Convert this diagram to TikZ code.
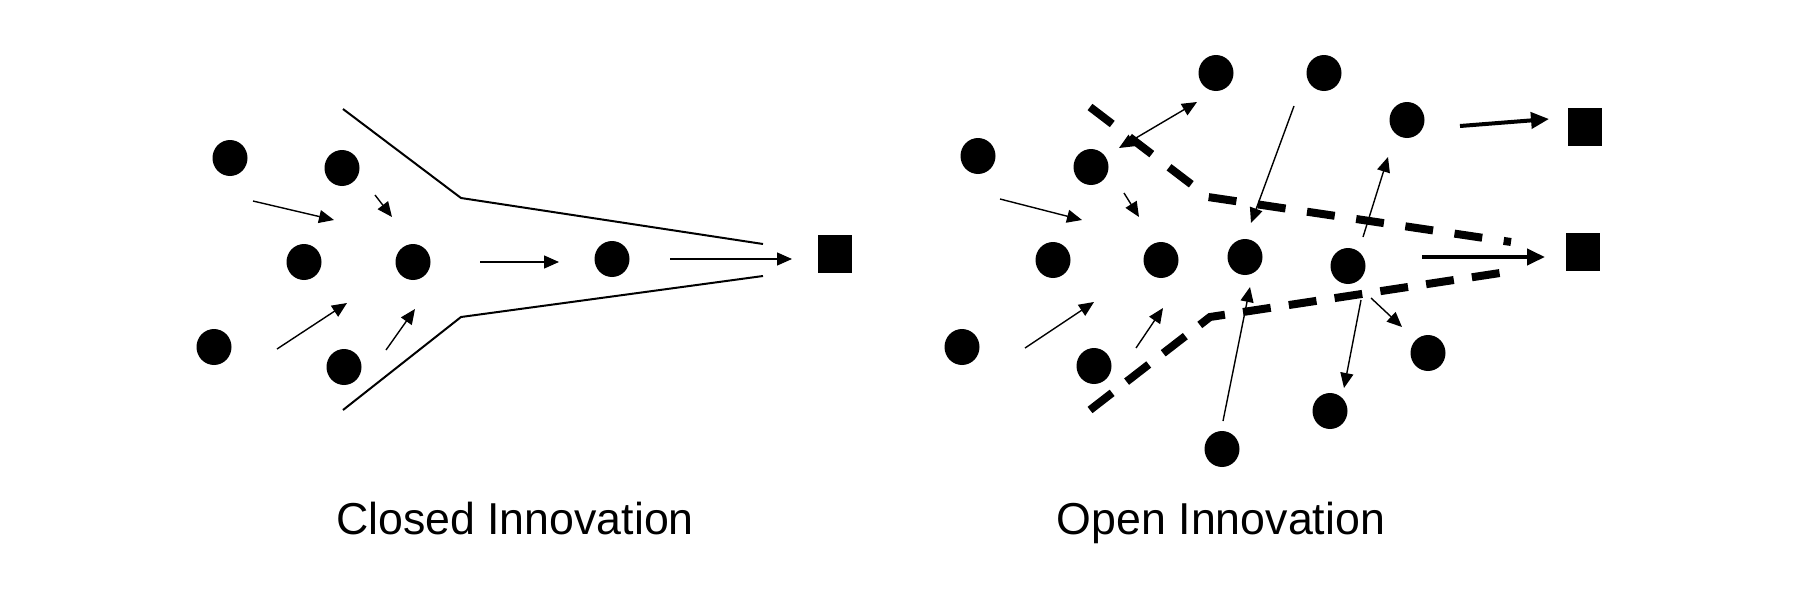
\documentclass[tikz,border=0pt]{standalone}
\usepackage{fontspec}
\setmainfont{Liberation Sans}
\usetikzlibrary{arrows.meta,shapes.geometric}
\begin{document}
\begin{tikzpicture}[x=0.5pt,y=-0.5pt,
  dot/.style={ellipse,fill=black,inner sep=0pt,minimum width=17.5pt,minimum height=18pt},
  sq/.style={rectangle,fill=black,inner sep=0pt,minimum width=17pt,minimum height=19pt},
  arr/.style={line width=0.7pt,-{Triangle[length=7.5pt,width=6.5pt]}},
  darr/.style={line width=0.7pt,{Triangle[length=7.5pt,width=6.5pt]}-{Triangle[length=7.5pt,width=6.5pt]}},
  tarr/.style={line width=2pt,-{Triangle[length=9pt,width=8pt]}},
  funnel/.style={line width=1pt},
  dashtop/.style={line width=4pt,dash pattern=on 14pt off 10.85pt},
  dashbot/.style={line width=4pt,dash pattern=on 14pt off 9.15pt},
  lbl/.style={font=\fontsize{22.35pt}{26pt}\selectfont,anchor=base,inner sep=0pt}]
\useasboundingbox (0,0) rectangle (1800,600);
\fill[white] (0,0) rectangle (1800,600);

% ---------- Closed innovation ----------
\node[dot] (c1) at (230,158) {};
\node[dot] (c2) at (342,168) {};
\node[dot] (c3) at (304,262) {};
\node[dot] (c4) at (413,262) {};
\node[dot] (c5) at (612,259) {};
\node[dot] (c6) at (214,347) {};
\node[dot] (c7) at (344,367) {};
\node[sq]  (cs) at (835,254) {};

\coordinate (ft1) at (343,109);
\coordinate (ft2) at (461,198);
\coordinate (ft3) at (763,244);
\coordinate (fb1) at (343,410);
\coordinate (fb2) at (461,317);
\coordinate (fb3) at (763,276);
\draw[funnel] (ft1) -- (ft2) -- (ft3);
\draw[funnel] (fb1) -- (fb2) -- (fb3);

\coordinate (ca1s) at (253,201); \coordinate (ca1e) at (334,220);
\coordinate (ca2s) at (375,195); \coordinate (ca2e) at (392,217);
\coordinate (ca3s) at (277,349); \coordinate (ca3e) at (347,303);
\coordinate (ca4s) at (386,350); \coordinate (ca4e) at (415,309);
\coordinate (ca5s) at (480,262); \coordinate (ca5e) at (559,262);
\coordinate (ca6s) at (670,259); \coordinate (ca6e) at (792,259);
\draw[arr] (ca1s) -- (ca1e);
\draw[arr] (ca2s) -- (ca2e);
\draw[arr] (ca3s) -- (ca3e);
\draw[arr] (ca4s) -- (ca4e);
\draw[arr] (ca5s) -- (ca5e);
\draw[arr] (ca6s) -- (ca6e);

\node[lbl] (clbl) at (515,534) {Closed Innovation};

% ---------- Open innovation ----------
\node[dot] (o1)  at (978,156) {};
\node[dot] (o2)  at (1091,167) {};
\node[dot] (o3)  at (1216,73) {};
\node[dot] (o4)  at (1324,73) {};
\node[dot] (o5)  at (1407,120) {};
\node[dot] (o6)  at (1053,260) {};
\node[dot] (o7)  at (1161,260) {};
\node[dot] (o8)  at (1245,257) {};
\node[dot] (o9)  at (1348,266) {};
\node[dot] (o10) at (962,347) {};
\node[dot] (o11) at (1094,366) {};
\node[dot] (o12) at (1428,353) {};
\node[dot] (o13) at (1330,411) {};
\node[dot] (o14) at (1222,449) {};
\node[sq]  (os1) at (1585,127) {};
\node[sq]  (os2) at (1583,252) {};

\coordinate (dt1) at (1090,107);
\coordinate (dt2) at (1208,197);
\coordinate (dt3) at (1511,242);
\coordinate (db1) at (1090,410);
\coordinate (db2) at (1210,317);
\coordinate (db3) at (1500,273);
\draw[dashtop] (dt1) -- (dt2) -- (dt3);
\draw[dashbot] (db1) -- (db2) -- (db3);

\coordinate (oa1s) at (1119,148);  \coordinate (oa1e) at (1197,102);
\coordinate (oa2s) at (1294,106);  \coordinate (oa2e) at (1251,223);
\coordinate (oa3s) at (1000,199);  \coordinate (oa3e) at (1082,220);
\coordinate (oa4s) at (1124,193);  \coordinate (oa4e) at (1139,217);
\coordinate (oa5s) at (1025,348);  \coordinate (oa5e) at (1094,302);
\coordinate (oa6s) at (1136,348);  \coordinate (oa6e) at (1163,308);
\coordinate (oa7s) at (1223,421);  \coordinate (oa7e) at (1250,287);
\coordinate (oa8s) at (1363,237);  \coordinate (oa8e) at (1388,157);
\coordinate (oa9s) at (1361,300);  \coordinate (oa9e) at (1344,388);
\coordinate (oa10s) at (1371,298); \coordinate (oa10e) at (1402,327);
\coordinate (oa11s) at (1460,126); \coordinate (oa11e) at (1549,119);
\coordinate (oa12s) at (1422,257); \coordinate (oa12e) at (1545,257);
\draw[darr] (oa1s) -- (oa1e);
\draw[arr] (oa2s) -- (oa2e);
\draw[arr] (oa3s) -- (oa3e);
\draw[arr] (oa4s) -- (oa4e);
\draw[arr] (oa5s) -- (oa5e);
\draw[arr] (oa6s) -- (oa6e);
\draw[arr] (oa7s) -- (oa7e);
\draw[arr] (oa8s) -- (oa8e);
\draw[arr] (oa9s) -- (oa9e);
\draw[arr] (oa10s) -- (oa10e);
\draw[tarr] (oa11s) -- (oa11e);
\draw[tarr] (oa12s) -- (oa12e);

\node[lbl] (olbl) at (1221,534) {Open Innovation};
\end{tikzpicture}
\end{document}
